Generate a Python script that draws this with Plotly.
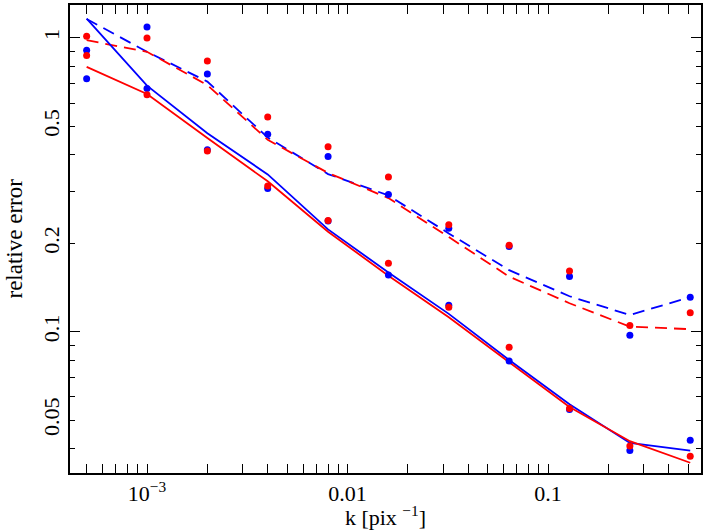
import plotly.graph_objects as go

k = [0.0005, 0.001, 0.002, 0.004, 0.008, 0.016, 0.032, 0.064, 0.128, 0.256, 0.512]

# scatter points (upper group, dashed curves)
red_pts_a = [1.013, 1.0, 0.834, 0.538, 0.426, 0.336, 0.231, 0.197, 0.161, 0.105, 0.116]
blue_pts_a = [0.908, 1.09, 0.753, 0.470, 0.395, 0.293, 0.225, 0.195, 0.154, 0.0973, 0.131]
# scatter points (lower group, solid curves)
red_pts_b = [0.871, 0.640, 0.412, 0.313, 0.239, 0.171, 0.121, 0.0886, 0.0548, 0.0408, 0.0377]
blue_pts_b = [0.726, 0.673, 0.416, 0.307, 0.238, 0.156, 0.123, 0.0794, 0.0543, 0.0394, 0.0427]

# curves
red_dashed = [0.982, 0.897, 0.691, 0.450, 0.347, 0.285, 0.210, 0.154, 0.125, 0.104, 0.102]
blue_dashed = [1.16, 0.897, 0.71, 0.458, 0.344, 0.291, 0.216, 0.162, 0.132, 0.114, 0.131]
red_solid = [0.797, 0.644, 0.456, 0.325, 0.219, 0.155, 0.112, 0.0790, 0.0554, 0.0424, 0.0358]
blue_solid = [1.163, 0.688, 0.474, 0.343, 0.223, 0.159, 0.115, 0.0801, 0.0566, 0.0418, 0.0394]

x_major = [0.001, 0.01, 0.1]
x_major_text = ["10<sup>−3</sup>", "0.01", "0.1"]
x_minor = [0.0005, 0.0006, 0.0007, 0.0008, 0.0009,
           0.002, 0.003, 0.004, 0.005, 0.006, 0.007, 0.008, 0.009,
           0.02, 0.03, 0.04, 0.05, 0.06, 0.07, 0.08, 0.09,
           0.2, 0.3, 0.4, 0.5]
y_labels = [0.05, 0.1, 0.2, 0.5, 1]
y_label_text = ["0.05", "0.1", "0.2", "0.5", "1"]
y_decades = [0.1, 1]
y_minor = [0.04, 0.06, 0.07, 0.08, 0.09, 0.3, 0.4, 0.6, 0.7, 0.8, 0.9]

x_title = "k [pix <sup>−1</sup>]"
y_title = "relative error"

RED = "#ff0000"
BLUE = "#0000ff"
FONT = "Liberation Serif"
FS = 22

fig = go.Figure()
fig.add_trace(go.Scatter(x=k, y=blue_dashed, mode="lines",
                         line=dict(color=BLUE, width=1.8, dash="12px,7px")))
fig.add_trace(go.Scatter(x=k, y=red_dashed, mode="lines",
                         line=dict(color=RED, width=1.8, dash="12px,7px")))
fig.add_trace(go.Scatter(x=k, y=blue_solid, mode="lines",
                         line=dict(color=BLUE, width=1.8)))
fig.add_trace(go.Scatter(x=k, y=red_solid, mode="lines",
                         line=dict(color=RED, width=1.8)))
for ys, c in [(blue_pts_a, BLUE), (blue_pts_b, BLUE), (red_pts_a, RED), (red_pts_b, RED)]:
    fig.add_trace(go.Scatter(x=k, y=ys, mode="markers",
                             marker=dict(color=c, size=7, line=dict(width=0))))
# invisible trace to anchor the decade-tick overlay axis
fig.add_trace(go.Scatter(x=k, y=red_solid, mode="lines", yaxis="y2",
                         line=dict(width=0, color="rgba(0,0,0,0)"), hoverinfo="skip"))

xr = [-3.384, -0.237]
yr = [-1.481, 0.112]

fig.update_layout(
    width=706, height=530,
    margin=dict(l=70, r=5, t=3, b=57),
    plot_bgcolor="white", paper_bgcolor="white",
    showlegend=False,
    font=dict(family=FONT, size=FS, color="black"),
    xaxis=dict(
        type="log", range=xr, showgrid=False, zeroline=False,
        showline=True, linecolor="black", linewidth=1.5, mirror="allticks",
        ticks="inside", ticklen=9, tickwidth=1.3, tickcolor="black",
        tickmode="array", tickvals=x_major, ticktext=x_major_text,
        minor=dict(tickmode="array", tickvals=x_minor, ticks="inside",
                   ticklen=5, tickwidth=1.3, tickcolor="black", showgrid=False),
        tickfont=dict(family=FONT, size=FS, color="black"),
        title=dict(text=x_title, font=dict(family=FONT, size=FS),
                   standoff=0),
    ),
    yaxis=dict(
        type="log", range=yr, showgrid=False, zeroline=False,
        showline=True, linecolor="black", linewidth=1.5, mirror="allticks",
        ticks="inside", ticklen=5, tickwidth=1.3, tickcolor="black",
        tickmode="array", tickvals=y_labels, ticktext=y_label_text,
        tickangle=-90,
        minor=dict(tickmode="array", tickvals=y_minor, ticks="inside",
                   ticklen=5, tickwidth=1.3, tickcolor="black", showgrid=False),
        tickfont=dict(family=FONT, size=FS, color="black"),
    ),
    yaxis2=dict(
        type="log", range=yr, overlaying="y", side="left",
        showgrid=False, zeroline=False, showline=False, mirror="allticks",
        ticks="inside", ticklen=10, tickwidth=1.3, tickcolor="black",
        tickmode="array", tickvals=y_decades, showticklabels=False,
    ),
    annotations=[dict(
        text=y_title, textangle=-90, xref="paper", yref="paper",
        x=-70 / 631, y=0.5, xanchor="left", yanchor="middle",
        showarrow=False, borderpad=0,
        font=dict(family=FONT, size=23, color="black"),
    )],
)

fig.write_html("out.html", config={"displayModeBar": False},
               post_script="document.body.style.margin='0';")
